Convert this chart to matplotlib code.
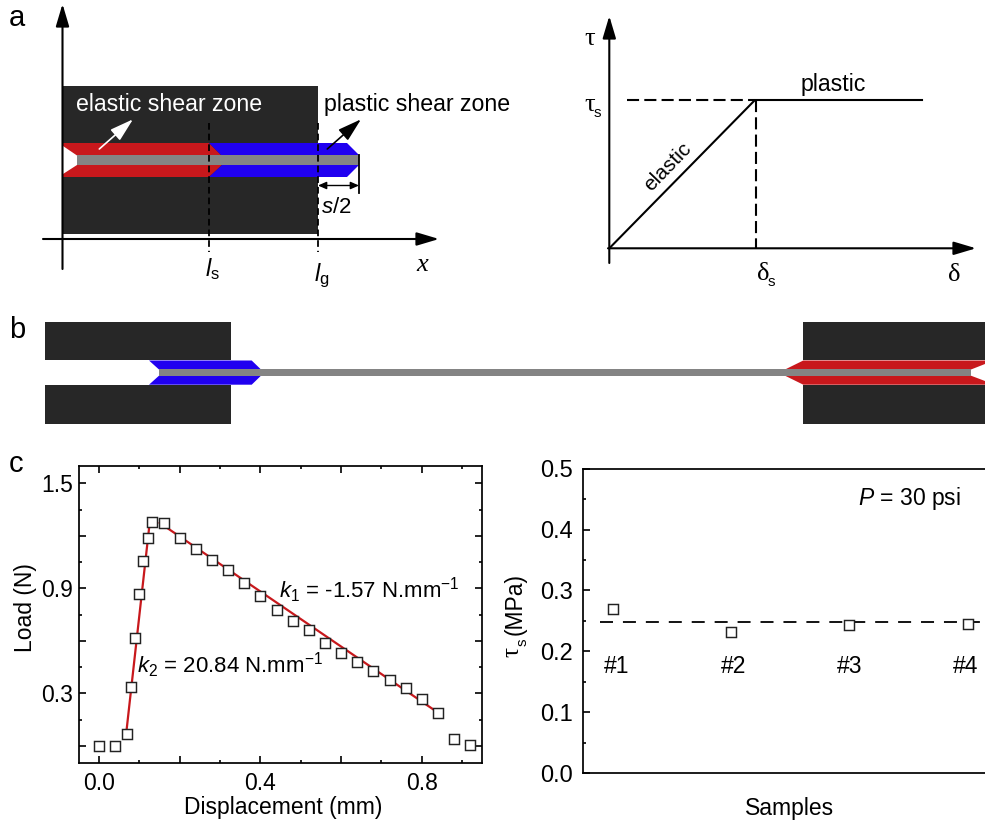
import matplotlib
matplotlib.use("Agg")
import matplotlib.pyplot as plt
from matplotlib.patches import Polygon, Rectangle, FancyArrowPatch
from matplotlib.ticker import MultipleLocator

W, H = 985, 822
SANS = "Liberation Sans"
SERIF = "Liberation Serif"
DARK = "#272727"
RED = "#c8181c"
BLUE = "#2000f0"
GRAY = "#848484"

plt.rcParams["font.family"] = SANS
plt.rcParams["mathtext.fontset"] = "custom"
plt.rcParams["mathtext.rm"] = SANS
plt.rcParams["mathtext.it"] = SANS + ":italic"
plt.rcParams["mathtext.default"] = "regular"

# load curve, panel c
displacement = [0.0, 0.04, 0.069, 0.08, 0.089, 0.10, 0.109, 0.12, 0.13, 0.16, 0.20, 0.24, 0.28, 0.32, 0.36,
                0.40, 0.44, 0.48, 0.52, 0.56, 0.60, 0.64, 0.68, 0.72, 0.76, 0.80, 0.84, 0.88, 0.92]
load = [0.001, 0.0, 0.07, 0.336, 0.618, 0.87, 1.054, 1.19, 1.28, 1.275, 1.19, 1.123, 1.064, 1.007, 0.93,
        0.854, 0.774, 0.715, 0.664, 0.59, 0.53, 0.479, 0.43, 0.378, 0.329, 0.268, 0.188, 0.037, 0.003]
rise_x = [0.067, 0.125]
rise_y = [0.07, 1.27]
fall_x = [0.15, 0.84]
fall_y = [1.275, 0.19]

# shear strength, panel c right
samples = [1, 2, 3, 4]
sample_names = ["#1", "#2", "#3", "#4"]
sample_name_x = [1.03, 2.02, 3.0, 3.98]
tau_s = [0.269, 0.232, 0.2425, 0.2447]
tau_mean = 0.2474

# schematic outlines, in picture pixels
red_a = [(63, 143), (209, 143), (222, 156), (222, 165), (209, 177), (63, 177)]
notch_a = [(63, 146), (77, 155.5), (77, 165), (63, 174)]
blue_a = [(209, 143), (347, 143), (359, 155), (359, 165), (347, 177), (209, 177), (222, 165), (222, 156)]
blue_b = [(149, 360.5), (251.7, 360.5), (261, 369.5), (261, 375.7), (251.7, 384.7), (149, 384.7), (159, 375.7), (159, 369.5)]
red_b = [(803.3, 360.5), (985, 360.5), (985, 384.7), (803.3, 384.7), (785, 375.7), (785, 369.5)]
notch_b = [(985, 364), (971, 369.5), (971, 375.7), (985, 381)]

fig = plt.figure(figsize=(W / 100, H / 100), dpi=100)


def px_axes(left, top, right, bottom):
    return fig.add_axes([left / W, 1 - bottom / H, (right - left) / W, (bottom - top) / H])


# overlay for the drawings
sk = fig.add_axes([0, 0, 1, 1], zorder=0)
sk.set_xlim(0, W)
sk.set_ylim(H, 0)
sk.axis("off")


def arrow(start, end, color="black", lw=1.5, hl=9.4, hw=2.8):
    sk.add_patch(FancyArrowPatch(start, end, arrowstyle=f"-|>,head_length={hl},head_width={hw}", color=color,
                                 lw=lw, shrinkA=0, shrinkB=0, mutation_scale=1.45, zorder=6))


for x, y, s in [(9, 26, "a"), (9, 338, "b"), (9, 472, "c")]:
    sk.text(x, y, s, fontsize=21, va="baseline")

# panel a left
sk.add_patch(Rectangle((63, 86), 255, 148, color=DARK, lw=0))
sk.add_patch(Polygon(red_a, color=RED, lw=0, zorder=2))
sk.add_patch(Polygon(notch_a, color="white", lw=0, zorder=2.5))
sk.add_patch(Polygon(blue_a, color=BLUE, lw=0, zorder=2))
sk.add_patch(Rectangle((77, 155.5), 282, 9.5, color=GRAY, lw=0, zorder=3))
sk.plot([209, 209], [123, 252], color="black", lw=1.3, ls=(0, (3.7, 2.2)), zorder=4)
sk.plot([318, 318], [123, 252], color="black", lw=1.3, ls=(0, (3.7, 2.2)), zorder=4)
sk.plot([359, 359], [155, 193], color="black", lw=1.3, zorder=4)
sk.add_patch(FancyArrowPatch((318, 185.5), (359, 185.5), arrowstyle="<|-|>,head_length=5,head_width=2.2", color="black",
                             lw=1, shrinkA=0, shrinkB=0, zorder=5))
arrow((62.5, 269), (62.5, 4))
arrow((43, 239), (439, 239))
arrow((99.3, 149), (133, 119.3), color="white", hl=10, hw=3, lw=1.2)
arrow((327.3, 149), (361, 119.3), hl=10, hw=3, lw=1.2)
sk.text(76, 111, "elastic shear zone", color="white", fontsize=16.7, va="baseline", zorder=6)
sk.text(324, 111, "plastic shear zone", fontsize=16.7, va="baseline", zorder=6)
sk.text(321, 213, r"$\mathit{s}$/2", fontsize=16, va="baseline", zorder=6)
sk.text(205, 276, r"$\mathit{l}_{s}$", fontsize=17, va="baseline")
sk.text(314, 281, r"$\mathit{l}_{g}$", fontsize=17, va="baseline")
sk.text(416, 271, "x", fontsize=19, family=SERIF, style="italic", va="baseline")

# panel a right
arrow((609.3, 263), (609.3, 16))
arrow((608, 248.3), (976, 248.3))
sk.plot([609.3, 755, 922], [248.3, 100, 100], color="black", lw=1.5)
sk.plot([626.7, 755], [100, 100], color="black", lw=1.5, ls=(0, (5.8, 2.5)))
sk.plot([756, 756], [100, 248.3], color="black", lw=1.5, ls=(0, (5.8, 2.5)))
sk.text(584, 45, "τ", fontsize=19, family=SERIF, va="baseline")
sk.text(584, 111, "τ", fontsize=19, family=SERIF, va="baseline")
sk.text(594, 117, "s", fontsize=11, va="baseline")
sk.text(757, 280, "δ", fontsize=19, family=SERIF, va="baseline")
sk.text(768, 286, "s", fontsize=11, va="baseline")
sk.text(948, 281, "δ", fontsize=19, family=SERIF, va="baseline")
sk.text(667.5, 166.5, "elastic", fontsize=15, rotation=46, ha="center", va="center")
sk.text(833, 84, "plastic", fontsize=16.7, ha="center", va="center")

# panel b
sk.add_patch(Rectangle((45, 321.7), 186, 38.8, color=DARK, lw=0))
sk.add_patch(Rectangle((45, 384.7), 186, 39.6, color=DARK, lw=0))
sk.add_patch(Rectangle((803.3, 321.7), 182, 38.8, color=DARK, lw=0))
sk.add_patch(Rectangle((803.3, 384.7), 182, 39.6, color=DARK, lw=0))
sk.add_patch(Polygon(blue_b, color=BLUE, lw=0, zorder=2))
sk.add_patch(Polygon(red_b, color=RED, lw=0, zorder=2))
sk.add_patch(Polygon(notch_b, color="white", lw=0, zorder=2.5))
sk.add_patch(Rectangle((159, 369.5), 812, 6.2, color=GRAY, lw=0, zorder=3))

# load curve
ax1 = px_axes(79, 466, 482.3, 763.3)
ax1.plot(rise_x, rise_y, color=RED, lw=1.6, zorder=2)
ax1.plot(fall_x, fall_y, color=RED, lw=1.6, zorder=2)
ax1.plot(displacement, load, ls="none", marker="s", ms=7, mfc="white", mec="#222222", mew=1.05, zorder=3)
ax1.set_xlim(-0.05, 0.95)
ax1.set_ylim(-0.1, 1.6)
ax1.set_xticks([0.0, 0.2, 0.4, 0.6, 0.8], ["0.0", "", "0.4", "", "0.8"])
ax1.set_yticks([0.0, 0.3, 0.6, 0.9, 1.2, 1.5], ["", "0.3", "", "0.9", "", "1.5"])
ax1.xaxis.set_minor_locator(MultipleLocator(0.1))
ax1.yaxis.set_minor_locator(MultipleLocator(0.15))
ax1.tick_params(which="major", direction="in", top=True, right=True, length=5, width=1.2, labelsize=16.5)
ax1.tick_params(axis="x", which="major", pad=6)
ax1.tick_params(axis="y", which="major", pad=4.5)
ax1.tick_params(which="minor", direction="in", top=True, right=True, length=2.5, width=1.2)
ax1.set_xlabel("Displacement (mm)", fontsize=16.5, labelpad=1, x=0.506)
ax1.set_ylabel("Load (N)", fontsize=16.5, labelpad=2.5, y=0.524)
ax1.text(0.446, 0.847, r"$\mathit{k}_{1}$ = -1.57 N.mm$^{-1}$", fontsize=16, va="baseline")
ax1.text(0.094, 0.418, r"$\mathit{k}_{2}$ = 20.84 N.mm$^{-1}$", fontsize=16, va="baseline")
for s in ax1.spines.values():
    s.set_linewidth(1.25)

# shear strength
ax2 = px_axes(583.3, 468.7, 985, 773)
ax2.axhline(tau_mean, xmin=0.0416, xmax=0.987, color="black", lw=1.3, ls=(0, (7.2, 5.5)), zorder=1)
ax2.plot(samples, tau_s, ls="none", marker="s", ms=7, mfc="white", mec="#222222", mew=1.05, zorder=3)
ax2.set_xlim(0.75, 4.147)
ax2.set_ylim(0, 0.5)
ax2.set_xticks([])
ax2.yaxis.set_major_locator(MultipleLocator(0.1))
ax2.yaxis.set_minor_locator(MultipleLocator(0.05))
ax2.tick_params(axis="y", which="major", direction="in", length=5, width=1.2, labelsize=17, pad=7.5)
ax2.tick_params(axis="y", which="minor", direction="in", length=2.5, width=1.2)
ax2.spines["right"].set_visible(False)
for s in ax2.spines.values():
    s.set_linewidth(1.25)
for x, s in zip(sample_name_x, sample_names):
    ax2.text(x, 0.164, s, fontsize=16.5, ha="center", va="baseline")
ax2.text(3.07, 0.44, r"$\mathit{P}$ = 30 psi", fontsize=16.5, va="baseline")
ax2.set_xlabel("Samples", fontsize=16.5, labelpad=17, x=0.5146)
sk.text(512, 657, "τ", fontsize=18, family=SERIF, rotation=90, ha="center", va="bottom")
sk.text(522.5, 642, "s", fontsize=11, rotation=90, ha="center", va="center")
sk.text(515, 635, "(MPa)", fontsize=16.5, rotation=90, ha="center", va="bottom")

fig.savefig("out.png", dpi=100)
